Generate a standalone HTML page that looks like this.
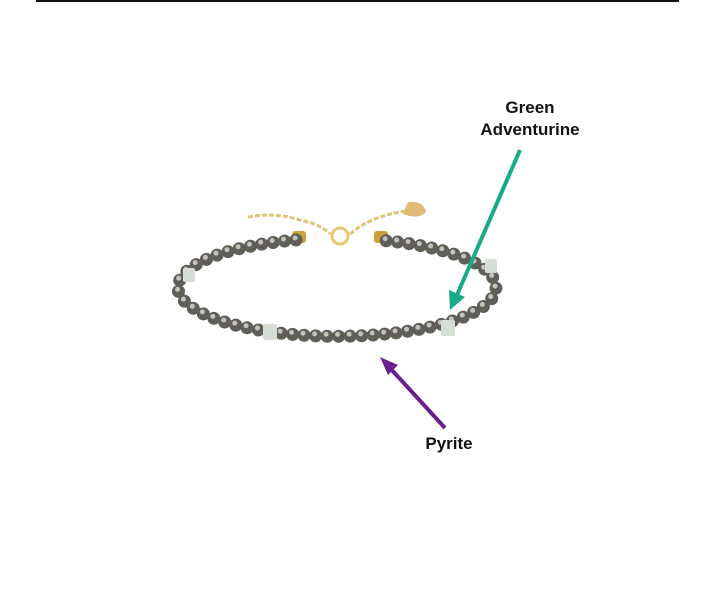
<!DOCTYPE html>
<html><head><style>
html,body{margin:0;padding:0;background:#fff;}
body{width:711px;height:592px;position:relative;overflow:hidden;font-family:"Liberation Sans",Arial,sans-serif;}
.t{position:absolute;font-weight:bold;font-size:17px;color:#111;text-align:center;}
</style></head><body>
<svg width="711" height="592" style="position:absolute;left:0;top:0">
<line x1="36" y1="1" x2="679" y2="1" stroke="#111" stroke-width="2"/>
<g transform="translate(0,4)">
<g stroke="#e0c27a" stroke-width="3" fill="none" stroke-dasharray="5 2">
<path d="M248 213 Q275 208 300 216 Q320 220 330 230"/>
<path d="M350 230 Q370 213 400 208 L420 204"/>
</g>
<circle cx="340" cy="232" r="8" stroke="#e8c86a" stroke-width="3" fill="none"/>
<path d="M408 198 Q423 196 426 208 Q418 216 403 210 Z" fill="#e3b978"/>
<rect x="292" y="227" width="14" height="12" rx="3" fill="#c9a23a"/>
<rect x="374" y="227" width="14" height="12" rx="3" fill="#c9a23a"/>
<path d="M296 236 A159 49 0 1 0 378 236" fill="none" stroke="#5f5e59" stroke-width="13" stroke-linecap="round" stroke-dasharray="0 11.5"/>
<path d="M296 236 A159 49 0 1 0 378 236" fill="none" stroke="#c4c2ba" stroke-width="5" stroke-linecap="round" stroke-dasharray="0 11.5" transform="translate(-1,-2)"/>
<rect x="263" y="320" width="14" height="16" rx="2" fill="#d5ddd4"/>
<rect x="441" y="316" width="14" height="16" rx="2" fill="#d5ddd4"/>
<rect x="183" y="264" width="12" height="14" rx="2" fill="#d5ddd4"/>
<rect x="485" y="255" width="12" height="14" rx="2" fill="#d5ddd4"/>
</g>
<line x1="520" y1="150" x2="457" y2="295" stroke="#1aaa88" stroke-width="4"/>
<polygon points="450,310 449,290 465,297" fill="#1aaa88"/>
<line x1="445" y1="428" x2="390" y2="368" stroke="#6a1f8f" stroke-width="4"/>
<polygon points="380,357 398,365 388,375" fill="#6a1f8f"/>
</svg>
<div class="t" style="left:470px;top:97px;width:120px;line-height:22px;">Green<br>Adventurine</div>
<div class="t" style="left:400px;top:434px;width:98px;">Pyrite</div>
</body></html>
